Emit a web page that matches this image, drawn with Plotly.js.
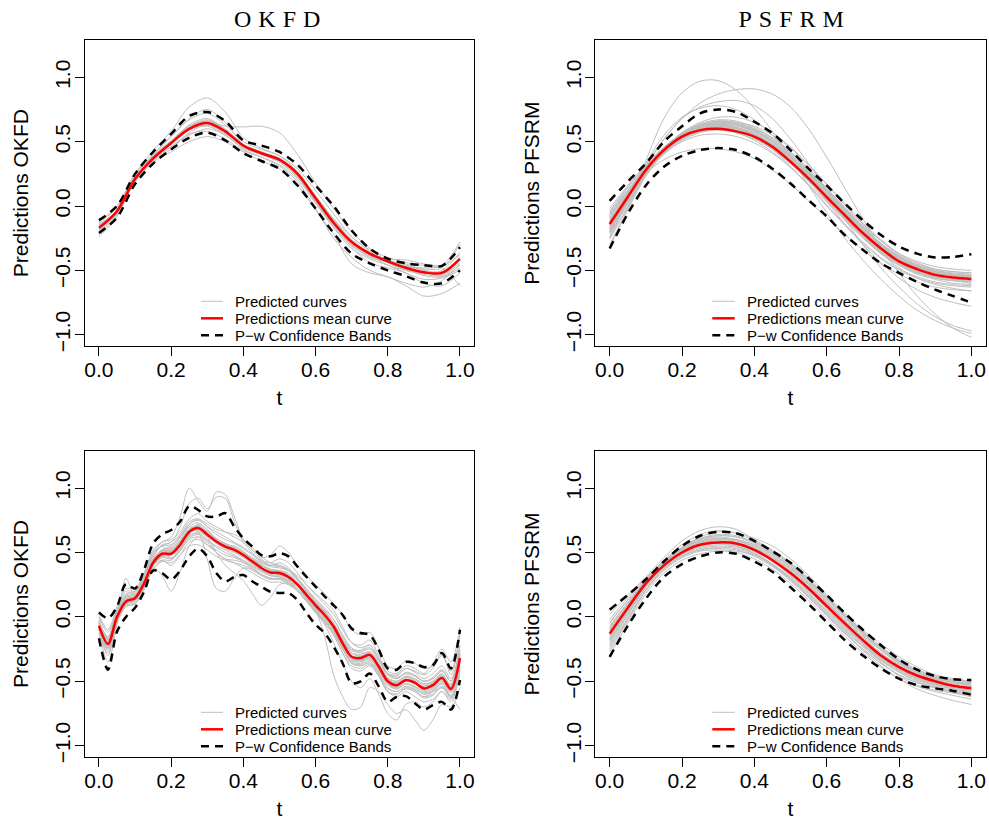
<!DOCTYPE html>
<html><head><meta charset="utf-8">
<script src="https://cdn.plot.ly/plotly-3.0.1.min.js"></script>
<style>
html,body{margin:0;padding:0;background:#fff;}
#chart{width:989px;height:821px;}
.annotation[data-index="0"] text,.annotation[data-index="1"] text{letter-spacing:7px;}
</style>
</head><body><div id="chart"></div>
<script>
// ---------- data ----------
const t21 = [0,0.05,0.1,0.15,0.2,0.25,0.3,0.35,0.4,0.45,0.5,0.55,0.6,0.65,0.7,0.75,0.8,0.85,0.9,0.95,1.0];
const t41 = [0,0.025,0.05,0.075,0.1,0.125,0.15,0.175,0.2,0.225,0.25,0.275,0.3,0.325,0.35,0.375,0.4,0.425,0.45,0.475,0.5,0.525,0.55,0.575,0.6,0.625,0.65,0.675,0.7,0.725,0.75,0.775,0.8,0.825,0.85,0.875,0.9,0.925,0.95,0.975,1.0];
const xTickVals = [0,0.2,0.4,0.6,0.8,1.0];
const xTickText = ['0.0','0.2','0.4','0.6','0.8','1.0'];
const yTickVals = [-1,-0.5,0,0.5,1];
const yTickText = ['\u22121.0','\u22120.5','0.0','0.5','1.0'];
const panelTitles = ['OKFD','PSFRM'];
const yTitles = ['Predictions OKFD','Predictions PFSRM','Predictions OKFD','Predictions PFSRM'];
const legendLabels = ['Predicted curves','Predictions mean curve','P\u2212w Confidence Bands'];

// Panel 1: OKFD (top)
const okfdTopMean  = [-0.17,-0.04,0.21,0.37,0.49,0.60,0.645,0.58,0.47,0.41,0.36,0.25,0.06,-0.13,-0.28,-0.37,-0.43,-0.48,-0.515,-0.52,-0.41];
const okfdTopUpper = [-0.11,0.0,0.25,0.42,0.56,0.70,0.73,0.66,0.51,0.47,0.42,0.32,0.16,0.0,-0.19,-0.33,-0.41,-0.445,-0.46,-0.465,-0.32];
const okfdTopLower = [-0.21,-0.09,0.17,0.33,0.44,0.53,0.57,0.51,0.41,0.35,0.29,0.16,-0.02,-0.21,-0.37,-0.445,-0.50,-0.545,-0.595,-0.60,-0.50];
const okfdTopCurves = [
  [-0.13,-0.01,0.25,0.43,0.58,0.77,0.84,0.73,0.53,0.45,0.39,0.27,0.08,-0.10,-0.27,-0.38,-0.46,-0.50,-0.52,-0.50,-0.36],
  [-0.15,-0.03,0.23,0.39,0.51,0.62,0.66,0.62,0.615,0.62,0.57,0.40,0.18,-0.02,-0.20,-0.33,-0.43,-0.47,-0.49,-0.48,-0.30],
  [-0.24,-0.08,0.19,0.34,0.42,0.50,0.54,0.50,0.42,0.35,0.29,0.16,-0.03,-0.22,-0.45,-0.52,-0.55,-0.62,-0.70,-0.68,-0.60],
  [-0.20,-0.06,0.20,0.37,0.46,0.55,0.60,0.55,0.44,0.38,0.31,0.19,-0.02,-0.25,-0.40,-0.50,-0.55,-0.60,-0.63,-0.58,-0.45],
  [-0.12,0.0,0.25,0.40,0.54,0.67,0.72,0.63,0.50,0.44,0.39,0.29,0.12,-0.06,-0.24,-0.34,-0.40,-0.44,-0.46,-0.46,-0.28],
  [-0.18,-0.04,0.21,0.36,0.48,0.59,0.62,0.55,0.45,0.40,0.35,0.23,0.04,-0.14,-0.30,-0.40,-0.43,-0.45,-0.50,-0.55,-0.48],
  [-0.16,-0.03,0.23,0.40,0.54,0.68,0.75,0.65,0.48,0.42,0.37,0.25,0.06,-0.12,-0.27,-0.36,-0.42,-0.47,-0.48,-0.47,-0.38],
  [-0.22,-0.07,0.19,0.35,0.46,0.56,0.58,0.52,0.43,0.38,0.32,0.21,0.02,-0.17,-0.33,-0.41,-0.46,-0.52,-0.57,-0.56,-0.50],
  [-0.14,-0.04,0.20,0.38,0.50,0.63,0.68,0.59,0.47,0.42,0.37,0.26,0.07,-0.10,-0.24,-0.35,-0.44,-0.50,-0.52,-0.53,-0.42],
  [-0.19,-0.06,0.20,0.37,0.48,0.60,0.64,0.57,0.46,0.40,0.35,0.23,0.03,-0.15,-0.30,-0.38,-0.41,-0.42,-0.45,-0.48,-0.62],
  [-0.17,-0.05,0.22,0.38,0.50,0.61,0.66,0.59,0.47,0.41,0.36,0.25,0.06,-0.12,-0.28,-0.37,-0.44,-0.50,-0.53,-0.54,-0.44],
  [-0.15,-0.04,0.21,0.36,0.44,0.57,0.63,0.57,0.47,0.42,0.36,0.23,0.04,-0.14,-0.32,-0.44,-0.48,-0.52,-0.60,-0.62,-0.52],
  [-0.18,-0.05,0.21,0.38,0.50,0.62,0.67,0.60,0.48,0.42,0.37,0.26,0.08,-0.11,-0.26,-0.36,-0.42,-0.46,-0.50,-0.51,-0.40],
  [-0.16,-0.03,0.22,0.37,0.49,0.59,0.63,0.56,0.46,0.40,0.34,0.22,0.04,-0.16,-0.31,-0.39,-0.44,-0.49,-0.54,-0.55,-0.46]
];

// Panel 2: PSFRM (top)
const psfrmTopMean  = [-0.14,0.07,0.28,0.435,0.54,0.59,0.60,0.58,0.54,0.46,0.345,0.215,0.07,-0.07,-0.21,-0.33,-0.43,-0.49,-0.535,-0.555,-0.567];
const psfrmTopUpper = [0.04,0.19,0.33,0.50,0.62,0.72,0.75,0.73,0.655,0.565,0.435,0.29,0.16,0.02,-0.11,-0.225,-0.315,-0.37,-0.40,-0.395,-0.375];
const psfrmTopLower = [-0.33,-0.06,0.16,0.305,0.39,0.435,0.45,0.435,0.38,0.29,0.175,0.045,-0.08,-0.225,-0.34,-0.445,-0.52,-0.59,-0.65,-0.70,-0.75];
const psfrmTopCurves = [
  [-0.32,-0.02,0.35,0.68,0.88,0.97,0.975,0.90,0.76,0.58,0.38,0.16,-0.05,-0.25,-0.42,-0.57,-0.70,-0.81,-0.89,-0.95,-0.99],
  [-0.12,0.10,0.32,0.52,0.68,0.80,0.87,0.905,0.91,0.87,0.77,0.60,0.38,0.14,-0.10,-0.32,-0.52,-0.70,-0.84,-0.95,-1.02],
  [-0.20,0.05,0.30,0.52,0.68,0.77,0.81,0.82,0.78,0.68,0.52,0.33,0.12,-0.10,-0.30,-0.48,-0.63,-0.76,-0.86,-0.93,-0.97],
  [-0.25,0.05,0.33,0.55,0.69,0.76,0.78,0.75,0.67,0.55,0.39,0.22,0.04,-0.14,-0.30,-0.44,-0.56,-0.65,-0.71,-0.75,-0.78],
  [-0.05,0.12,0.26,0.36,0.42,0.445,0.445,0.42,0.37,0.28,0.17,0.04,-0.09,-0.22,-0.34,-0.45,-0.53,-0.59,-0.63,-0.65,-0.66],
  [-0.02,0.16,0.32,0.46,0.56,0.62,0.64,0.63,0.59,0.51,0.40,0.27,0.13,-0.01,-0.15,-0.27,-0.37,-0.43,-0.47,-0.49,-0.50],
  [-0.06,0.14,0.31,0.45,0.55,0.61,0.63,0.61,0.56,0.48,0.37,0.24,0.10,-0.04,-0.18,-0.30,-0.40,-0.46,-0.50,-0.52,-0.53],
  [-0.10,0.10,0.29,0.44,0.55,0.62,0.65,0.64,0.60,0.53,0.42,0.29,0.14,-0.01,-0.16,-0.29,-0.40,-0.47,-0.52,-0.54,-0.55],
  [-0.14,0.07,0.28,0.44,0.56,0.63,0.66,0.64,0.59,0.50,0.38,0.24,0.09,-0.06,-0.20,-0.32,-0.42,-0.49,-0.54,-0.56,-0.57],
  [-0.18,0.04,0.26,0.42,0.54,0.60,0.61,0.59,0.54,0.45,0.33,0.19,0.04,-0.10,-0.24,-0.36,-0.45,-0.51,-0.55,-0.57,-0.58],
  [-0.22,0.02,0.25,0.42,0.54,0.61,0.63,0.61,0.55,0.46,0.34,0.20,0.05,-0.10,-0.24,-0.36,-0.46,-0.53,-0.57,-0.60,-0.61],
  [-0.26,-0.01,0.24,0.41,0.53,0.59,0.60,0.57,0.51,0.42,0.30,0.16,0.01,-0.14,-0.28,-0.40,-0.49,-0.55,-0.59,-0.61,-0.62],
  [-0.30,-0.03,0.23,0.42,0.55,0.62,0.64,0.61,0.54,0.44,0.31,0.16,0.00,-0.15,-0.29,-0.41,-0.50,-0.56,-0.60,-0.62,-0.63],
  [-0.12,0.08,0.27,0.41,0.50,0.55,0.56,0.54,0.49,0.41,0.30,0.17,0.03,-0.11,-0.25,-0.37,-0.46,-0.52,-0.55,-0.57,-0.58],
  [-0.08,0.12,0.30,0.45,0.57,0.65,0.69,0.69,0.65,0.57,0.46,0.32,0.17,0.01,-0.14,-0.27,-0.38,-0.45,-0.49,-0.51,-0.52],
  [-0.16,0.06,0.27,0.43,0.55,0.62,0.65,0.63,0.58,0.50,0.39,0.26,0.11,-0.04,-0.18,-0.31,-0.41,-0.48,-0.52,-0.54,-0.55],
  [-0.20,0.03,0.25,0.40,0.51,0.57,0.59,0.57,0.52,0.44,0.33,0.20,0.06,-0.08,-0.22,-0.34,-0.44,-0.50,-0.54,-0.56,-0.57],
  [-0.04,0.15,0.31,0.44,0.53,0.58,0.60,0.58,0.54,0.47,0.37,0.25,0.12,-0.02,-0.16,-0.29,-0.39,-0.46,-0.50,-0.53,-0.54],
  [-0.24,0.00,0.25,0.43,0.56,0.63,0.66,0.65,0.60,0.52,0.41,0.27,0.12,-0.04,-0.19,-0.32,-0.43,-0.51,-0.56,-0.58,-0.59],
  [-0.15,0.06,0.26,0.41,0.52,0.58,0.60,0.58,0.53,0.45,0.34,0.21,0.06,-0.09,-0.24,-0.37,-0.48,-0.56,-0.61,-0.64,-0.66],
  [-0.11,0.09,0.29,0.44,0.55,0.61,0.63,0.61,0.57,0.49,0.38,0.25,0.10,-0.05,-0.19,-0.31,-0.41,-0.48,-0.52,-0.54,-0.55],
  [-0.17,0.05,0.27,0.43,0.54,0.60,0.62,0.60,0.55,0.47,0.36,0.23,0.08,-0.07,-0.21,-0.33,-0.43,-0.50,-0.54,-0.56,-0.57],
  [-0.13,0.08,0.29,0.45,0.57,0.64,0.67,0.66,0.61,0.53,0.42,0.28,0.13,-0.02,-0.16,-0.29,-0.39,-0.46,-0.51,-0.53,-0.54],
  [-0.19,0.03,0.25,0.41,0.52,0.58,0.60,0.58,0.53,0.44,0.33,0.20,0.05,-0.09,-0.23,-0.35,-0.45,-0.52,-0.56,-0.58,-0.59],
  [-0.09,0.11,0.30,0.45,0.56,0.63,0.66,0.65,0.62,0.55,0.45,0.32,0.17,0.02,-0.13,-0.26,-0.37,-0.44,-0.49,-0.51,-0.52],
  [-0.21,0.02,0.25,0.42,0.54,0.61,0.64,0.63,0.58,0.50,0.38,0.25,0.10,-0.05,-0.20,-0.33,-0.44,-0.51,-0.56,-0.58,-0.60],
  [-0.07,0.12,0.30,0.44,0.54,0.60,0.62,0.60,0.56,0.48,0.38,0.26,0.12,-0.03,-0.17,-0.30,-0.40,-0.47,-0.51,-0.53,-0.54],
  [-0.15,0.06,0.27,0.42,0.53,0.59,0.61,0.60,0.56,0.48,0.37,0.24,0.09,-0.06,-0.20,-0.32,-0.42,-0.49,-0.53,-0.55,-0.56],
  [-0.13,0.08,0.28,0.43,0.55,0.62,0.64,0.62,0.58,0.51,0.40,0.27,0.12,-0.03,-0.17,-0.30,-0.40,-0.47,-0.51,-0.53,-0.55],
  [-0.18,0.05,0.27,0.44,0.56,0.62,0.63,0.61,0.56,0.47,0.35,0.21,0.06,-0.09,-0.23,-0.35,-0.44,-0.50,-0.54,-0.56,-0.57]
];

// Panel 3: OKFD (bottom)
const okfdBotMean  = [-0.07,-0.21,0.00,0.12,0.145,0.26,0.42,0.49,0.49,0.56,0.66,0.69,0.64,0.585,0.545,0.52,0.48,0.43,0.38,0.345,0.34,0.31,0.25,0.17,0.09,0.015,-0.075,-0.205,-0.31,-0.32,-0.295,-0.385,-0.50,-0.53,-0.49,-0.51,-0.555,-0.53,-0.475,-0.56,-0.32];
const okfdBotUpper = [0.035,-0.01,0.08,0.255,0.22,0.365,0.57,0.64,0.675,0.74,0.86,0.83,0.78,0.78,0.805,0.70,0.61,0.545,0.48,0.47,0.495,0.47,0.39,0.31,0.235,0.16,0.09,0.015,-0.09,-0.125,-0.14,-0.255,-0.40,-0.41,-0.35,-0.36,-0.39,-0.375,-0.28,-0.40,-0.10];
const okfdBotLower = [-0.165,-0.41,-0.115,0.0,0.07,0.195,0.36,0.34,0.29,0.36,0.47,0.53,0.47,0.34,0.275,0.31,0.325,0.275,0.235,0.195,0.185,0.185,0.13,0.03,-0.06,-0.125,-0.23,-0.36,-0.515,-0.50,-0.44,-0.54,-0.66,-0.62,-0.615,-0.67,-0.72,-0.685,-0.66,-0.72,-0.49];
const okfdBotCurves = [
  [-0.05,-0.15,0.05,0.18,0.20,0.32,0.50,0.58,0.62,0.78,1.00,0.90,0.82,0.97,0.95,0.78,0.60,0.52,0.45,0.40,0.42,0.38,0.30,0.20,0.12,0.05,-0.05,-0.18,-0.28,-0.30,-0.28,-0.38,-0.48,-0.50,-0.46,-0.48,-0.52,-0.50,-0.44,-0.55,-0.28],
  [-0.10,-0.30,-0.05,0.08,0.10,0.22,0.38,0.32,0.20,0.35,0.55,0.62,0.58,0.50,0.45,0.44,0.42,0.38,0.33,0.30,0.30,0.27,0.20,0.12,0.04,-0.04,-0.14,-0.28,-0.40,-0.42,-0.38,-0.46,-0.58,-0.60,-0.55,-0.58,-0.62,-0.58,-0.52,-0.62,-0.40],
  [-0.02,-0.18,0.02,0.14,0.16,0.28,0.45,0.52,0.55,0.62,0.70,0.66,0.45,0.22,0.20,0.30,0.38,0.36,0.32,0.29,0.30,0.28,0.22,0.14,0.06,-0.02,-0.12,-0.24,-0.35,-0.36,-0.32,-0.42,-0.52,-0.55,-0.50,-0.52,-0.56,-0.54,-0.48,-0.58,-0.35],
  [-0.08,-0.24,-0.02,0.10,0.13,0.24,0.40,0.47,0.48,0.54,0.62,0.65,0.60,0.55,0.52,0.48,0.44,0.40,0.36,0.33,0.32,0.29,0.22,0.14,0.05,-0.15,-0.45,-0.62,-0.72,-0.70,-0.55,-0.58,-0.68,-0.75,-0.72,-0.80,-0.88,-0.80,-0.68,-0.70,-0.55],
  [-0.06,-0.20,0.01,0.13,0.15,0.27,0.43,0.50,0.52,0.58,0.68,0.70,0.62,0.50,0.40,0.34,0.28,0.18,0.09,0.15,0.25,0.26,0.22,0.15,0.07,-0.01,-0.10,-0.22,-0.33,-0.34,-0.31,-0.40,-0.52,-0.54,-0.50,-0.52,-0.57,-0.55,-0.49,-0.57,-0.33],
  [0.02,-0.10,0.08,0.22,0.22,0.34,0.52,0.58,0.60,0.66,0.76,0.80,0.74,0.70,0.66,0.62,0.58,0.52,0.46,0.48,0.55,0.50,0.40,0.32,0.25,0.18,0.10,0.02,-0.10,-0.14,-0.12,-0.24,-0.38,-0.40,-0.34,-0.36,-0.40,-0.38,-0.30,-0.42,-0.12],
  [-0.09,-0.25,-0.03,0.10,0.12,0.23,0.40,0.47,0.46,0.53,0.63,0.66,0.62,0.57,0.53,0.50,0.46,0.41,0.36,0.32,0.31,0.28,0.22,0.15,0.07,-0.01,-0.09,-0.22,-0.33,-0.34,-0.31,-0.40,-0.52,-0.56,-0.52,-0.54,-0.58,-0.56,-0.50,-0.58,-0.35],
  [-0.04,-0.17,0.03,0.15,0.17,0.29,0.45,0.52,0.53,0.60,0.70,0.73,0.67,0.61,0.57,0.54,0.50,0.45,0.40,0.37,0.36,0.33,0.27,0.19,0.11,0.04,-0.05,-0.18,-0.28,-0.29,-0.27,-0.36,-0.47,-0.50,-0.46,-0.48,-0.52,-0.50,-0.45,-0.53,-0.29],
  [-0.03,-0.16,0.04,0.16,0.18,0.30,0.48,0.56,0.58,0.70,0.88,0.92,0.84,0.93,0.92,0.74,0.58,0.50,0.43,0.40,0.40,0.36,0.29,0.21,0.13,0.06,-0.02,-0.14,-0.24,-0.27,-0.25,-0.34,-0.45,-0.48,-0.43,-0.45,-0.50,-0.48,-0.42,-0.50,-0.22],
  [-0.12,-0.35,-0.06,0.30,0.16,0.25,0.40,0.44,0.40,0.48,0.58,0.60,0.56,0.52,0.48,0.46,0.43,0.39,0.35,0.32,0.31,0.28,0.22,0.14,0.05,-0.03,-0.12,-0.25,-0.36,-0.38,-0.35,-0.44,-0.56,-0.58,-0.54,-0.57,-0.62,-0.60,-0.54,-0.62,-0.38],
  [-0.07,-0.22,0.00,0.11,0.14,0.25,0.41,0.48,0.48,0.55,0.65,0.68,0.63,0.58,0.54,0.51,0.47,0.42,0.37,0.34,0.33,0.30,0.24,0.15,0.05,-0.06,-0.20,-0.36,-0.50,-0.55,-0.48,-0.60,-0.75,-0.80,-0.68,-0.66,-0.70,-0.66,-0.58,-0.64,-0.45],
  [-0.06,-0.19,0.02,0.14,0.16,0.28,0.44,0.51,0.51,0.58,0.68,0.71,0.66,0.60,0.56,0.53,0.49,0.44,0.40,0.36,0.35,0.32,0.26,0.18,0.10,0.03,-0.06,-0.18,-0.26,-0.26,-0.22,-0.32,-0.44,-0.46,-0.40,-0.42,-0.45,-0.40,-0.28,-0.45,-0.15],
  [-0.10,-0.28,-0.04,0.09,0.11,0.22,0.37,0.43,0.42,0.48,0.55,0.56,0.52,0.47,0.44,0.42,0.40,0.37,0.33,0.30,0.29,0.26,0.20,0.12,0.03,-0.05,-0.14,-0.28,-0.38,-0.40,-0.37,-0.46,-0.58,-0.62,-0.58,-0.62,-0.66,-0.64,-0.58,-0.66,-0.42],
  [0.00,-0.12,0.06,0.20,0.20,0.32,0.50,0.55,0.58,0.64,0.74,0.76,0.70,0.66,0.62,0.58,0.54,0.49,0.44,0.42,0.45,0.42,0.34,0.25,0.17,0.10,0.02,-0.10,-0.20,-0.22,-0.18,-0.30,-0.42,-0.44,-0.38,-0.40,-0.44,-0.36,-0.25,-0.35,-0.08],
  [-0.08,-0.23,-0.01,0.12,0.14,0.25,0.41,0.48,0.49,0.56,0.66,0.69,0.64,0.58,0.55,0.52,0.48,0.43,0.38,0.35,0.34,0.31,0.25,0.17,0.09,0.01,-0.08,-0.21,-0.32,-0.33,-0.30,-0.40,-0.52,-0.55,-0.52,-0.55,-0.60,-0.58,-0.55,-0.62,-0.72],
  [-0.04,-0.17,0.04,0.17,0.19,0.31,0.48,0.55,0.56,0.63,0.72,0.75,0.70,0.64,0.60,0.57,0.53,0.48,0.43,0.40,0.39,0.36,0.30,0.22,0.14,0.07,-0.02,-0.15,-0.25,-0.26,-0.24,-0.33,-0.45,-0.48,-0.44,-0.46,-0.50,-0.48,-0.42,-0.50,-0.26],
  [-0.10,-0.26,-0.04,0.08,0.10,0.21,0.37,0.44,0.44,0.51,0.61,0.64,0.59,0.54,0.50,0.47,0.43,0.38,0.33,0.30,0.29,0.26,0.20,0.12,0.04,-0.03,-0.12,-0.25,-0.36,-0.37,-0.34,-0.43,-0.55,-0.58,-0.54,-0.56,-0.60,-0.58,-0.52,-0.61,-0.38],
  [-0.05,-0.19,0.03,0.16,0.14,0.27,0.46,0.55,0.45,0.52,0.64,0.72,0.68,0.60,0.55,0.55,0.51,0.45,0.40,0.36,0.36,0.34,0.28,0.19,0.10,0.03,-0.06,-0.19,-0.30,-0.34,-0.33,-0.40,-0.50,-0.51,-0.47,-0.50,-0.56,-0.52,-0.46,-0.54,-0.30],
  [-0.09,-0.24,-0.02,0.11,0.16,0.24,0.40,0.47,0.51,0.58,0.66,0.67,0.63,0.59,0.56,0.53,0.49,0.45,0.41,0.37,0.35,0.30,0.24,0.17,0.10,0.03,-0.05,-0.17,-0.28,-0.31,-0.30,-0.38,-0.48,-0.52,-0.50,-0.52,-0.54,-0.51,-0.46,-0.52,-0.36],
  [-0.06,-0.20,0.01,0.13,0.15,0.27,0.44,0.52,0.54,0.62,0.72,0.76,0.72,0.68,0.66,0.64,0.60,0.54,0.47,0.42,0.40,0.37,0.30,0.21,0.12,0.04,-0.06,-0.19,-0.30,-0.31,-0.28,-0.37,-0.49,-0.51,-0.47,-0.49,-0.53,-0.51,-0.45,-0.53,-0.30],
  [-0.08,-0.23,-0.01,0.11,0.13,0.24,0.40,0.46,0.45,0.52,0.60,0.62,0.56,0.50,0.45,0.42,0.38,0.34,0.30,0.27,0.27,0.25,0.20,0.13,0.05,-0.03,-0.12,-0.24,-0.34,-0.35,-0.32,-0.41,-0.53,-0.56,-0.52,-0.54,-0.59,-0.57,-0.51,-0.59,-0.36],
  [-0.07,-0.21,0.00,0.12,0.15,0.26,0.42,0.50,0.50,0.57,0.67,0.70,0.65,0.59,0.55,0.52,0.48,0.43,0.38,0.35,0.35,0.32,0.26,0.18,0.10,0.03,-0.05,-0.17,-0.26,-0.28,-0.28,-0.34,-0.44,-0.45,-0.40,-0.43,-0.48,-0.44,-0.38,-0.48,-0.22],
  [-0.07,-0.22,0.00,0.12,0.14,0.26,0.42,0.49,0.49,0.56,0.65,0.68,0.63,0.58,0.54,0.51,0.47,0.42,0.37,0.34,0.33,0.30,0.24,0.16,0.07,-0.01,-0.10,-0.24,-0.36,-0.38,-0.36,-0.45,-0.58,-0.60,-0.56,-0.58,-0.63,-0.61,-0.55,-0.63,-0.42],
  [-0.05,-0.18,0.02,0.15,0.17,0.28,0.44,0.51,0.52,0.59,0.68,0.71,0.66,0.61,0.57,0.54,0.50,0.46,0.42,0.39,0.38,0.36,0.32,0.25,0.18,0.12,0.05,-0.08,-0.20,-0.24,-0.22,-0.32,-0.44,-0.47,-0.44,-0.46,-0.50,-0.47,-0.41,-0.50,-0.25]
];

// Panel 4: PSFRM (bottom)
const psfrmBotMean  = [-0.13,0.07,0.26,0.40,0.50,0.56,0.578,0.57,0.52,0.44,0.34,0.22,0.085,-0.05,-0.18,-0.30,-0.39,-0.455,-0.50,-0.535,-0.555];
const psfrmBotUpper = [0.055,0.17,0.29,0.43,0.55,0.63,0.66,0.65,0.59,0.51,0.42,0.30,0.17,0.03,-0.10,-0.22,-0.33,-0.41,-0.46,-0.485,-0.49];
const psfrmBotLower = [-0.31,-0.07,0.14,0.31,0.41,0.47,0.50,0.49,0.43,0.35,0.23,0.10,-0.04,-0.18,-0.30,-0.40,-0.48,-0.53,-0.555,-0.575,-0.605];
const psfrmBotCurves = [
  [0.02,0.17,0.31,0.46,0.59,0.67,0.70,0.68,0.60,0.52,0.42,0.30,0.16,0.02,-0.11,-0.23,-0.33,-0.41,-0.46,-0.49,-0.50],
  [-0.05,0.13,0.29,0.43,0.54,0.61,0.63,0.62,0.57,0.49,0.39,0.27,0.14,0.00,-0.13,-0.25,-0.35,-0.43,-0.48,-0.51,-0.52],
  [-0.10,0.09,0.27,0.41,0.52,0.58,0.60,0.59,0.54,0.46,0.36,0.24,0.10,-0.04,-0.17,-0.28,-0.38,-0.45,-0.50,-0.53,-0.54],
  [-0.15,0.05,0.25,0.40,0.51,0.57,0.59,0.57,0.52,0.44,0.33,0.21,0.07,-0.07,-0.20,-0.31,-0.40,-0.47,-0.52,-0.55,-0.57],
  [-0.20,0.02,0.24,0.39,0.49,0.54,0.56,0.55,0.50,0.41,0.30,0.18,0.04,-0.10,-0.22,-0.33,-0.42,-0.48,-0.53,-0.56,-0.59],
  [-0.25,-0.02,0.21,0.37,0.47,0.52,0.53,0.52,0.47,0.39,0.28,0.15,0.01,-0.13,-0.25,-0.36,-0.45,-0.51,-0.55,-0.58,-0.61],
  [-0.30,-0.05,0.18,0.34,0.44,0.49,0.51,0.50,0.45,0.37,0.26,0.13,-0.01,-0.15,-0.28,-0.39,-0.48,-0.54,-0.58,-0.61,-0.64],
  [-0.08,0.11,0.28,0.42,0.54,0.62,0.66,0.65,0.61,0.55,0.45,0.32,0.17,0.03,-0.10,-0.21,-0.31,-0.39,-0.45,-0.48,-0.50],
  [-0.18,0.04,0.25,0.41,0.53,0.60,0.62,0.60,0.54,0.45,0.34,0.21,0.07,-0.08,-0.21,-0.33,-0.43,-0.50,-0.55,-0.59,-0.62],
  [-0.12,0.08,0.26,0.40,0.50,0.56,0.58,0.57,0.53,0.46,0.37,0.25,0.12,-0.02,-0.15,-0.26,-0.36,-0.43,-0.48,-0.51,-0.53],
  [-0.22,0.01,0.23,0.39,0.50,0.56,0.57,0.55,0.49,0.40,0.29,0.16,0.02,-0.12,-0.26,-0.38,-0.48,-0.56,-0.61,-0.65,-0.68],
  [-0.02,0.15,0.30,0.44,0.56,0.64,0.67,0.65,0.59,0.51,0.41,0.29,0.15,0.01,-0.12,-0.24,-0.34,-0.42,-0.47,-0.50,-0.51],
  [-0.14,0.06,0.26,0.41,0.52,0.59,0.61,0.60,0.56,0.48,0.38,0.26,0.12,-0.03,-0.16,-0.28,-0.38,-0.46,-0.51,-0.54,-0.56],
  [-0.27,-0.03,0.20,0.36,0.46,0.51,0.52,0.51,0.48,0.41,0.31,0.19,0.05,-0.09,-0.23,-0.35,-0.46,-0.53,-0.57,-0.59,-0.60],
  [-0.11,0.08,0.27,0.41,0.52,0.58,0.60,0.59,0.55,0.47,0.37,0.25,0.11,-0.03,-0.16,-0.28,-0.37,-0.44,-0.49,-0.52,-0.54],
  [-0.16,0.05,0.25,0.39,0.49,0.55,0.57,0.56,0.51,0.43,0.32,0.20,0.06,-0.08,-0.21,-0.32,-0.41,-0.47,-0.52,-0.55,-0.57],
  [-0.07,0.11,0.28,0.42,0.53,0.60,0.63,0.62,0.58,0.50,0.40,0.28,0.14,0.00,-0.13,-0.25,-0.35,-0.42,-0.47,-0.50,-0.52],
  [-0.19,0.02,0.23,0.38,0.48,0.53,0.55,0.54,0.49,0.41,0.30,0.17,0.03,-0.11,-0.23,-0.34,-0.43,-0.49,-0.54,-0.57,-0.59],
  [-0.13,0.07,0.26,0.41,0.51,0.57,0.59,0.58,0.53,0.45,0.35,0.23,0.09,-0.05,-0.18,-0.30,-0.39,-0.46,-0.51,-0.54,-0.56],
  [-0.04,0.13,0.29,0.43,0.54,0.61,0.64,0.63,0.58,0.51,0.41,0.29,0.15,0.01,-0.12,-0.24,-0.34,-0.41,-0.46,-0.49,-0.50],
  [-0.23,-0.01,0.21,0.37,0.47,0.52,0.54,0.53,0.48,0.40,0.29,0.16,0.02,-0.12,-0.25,-0.36,-0.45,-0.51,-0.55,-0.58,-0.60],
  [-0.09,0.10,0.28,0.42,0.53,0.59,0.61,0.60,0.56,0.49,0.39,0.27,0.13,-0.01,-0.14,-0.26,-0.36,-0.43,-0.48,-0.51,-0.53],
  [-0.17,0.04,0.24,0.39,0.50,0.56,0.58,0.57,0.52,0.44,0.33,0.21,0.07,-0.07,-0.20,-0.32,-0.41,-0.48,-0.53,-0.56,-0.58]
];

// ---------- build ----------
const W = 989, H = 821;
const PX = v => v / W, PY = v => 1 - v / H;
const GREY = '#BEBEBE', RED = '#FF0000', BLACK = '#000000';
const SANS = 'Liberation Sans, Arial, Helvetica, sans-serif';
const SERIF = 'Liberation Serif, Times New Roman, serif';

const panels = [
  {t: t21, curves: okfdTopCurves,  mean: okfdTopMean,  up: okfdTopUpper,  lo: okfdTopLower,  xa: 'x',  ya: 'y'},
  {t: t21, curves: psfrmTopCurves, mean: psfrmTopMean, up: psfrmTopUpper, lo: psfrmTopLower, xa: 'x2', ya: 'y2'},
  {t: t41, curves: okfdBotCurves,  mean: okfdBotMean,  up: okfdBotUpper,  lo: okfdBotLower,  xa: 'x3', ya: 'y3'},
  {t: t21, curves: psfrmBotCurves, mean: psfrmBotMean, up: psfrmBotUpper, lo: psfrmBotLower, xa: 'x4', ya: 'y4'}
];

const traces = [];
panels.forEach(p => {
  p.curves.forEach(c => traces.push({
    x: p.t, y: c, xaxis: p.xa, yaxis: p.ya, type: 'scatter', mode: 'lines',
    name: legendLabels[0], showlegend: false, hoverinfo: 'skip',
    line: {color: GREY, width: 1, shape: 'spline', smoothing: 0.9}
  }));
  [p.up, p.lo].forEach(b => traces.push({
    x: p.t, y: b, xaxis: p.xa, yaxis: p.ya, type: 'scatter', mode: 'lines',
    name: legendLabels[2], showlegend: false, hoverinfo: 'skip',
    line: {color: BLACK, width: 2.5, dash: '8px,6px', shape: 'spline', smoothing: 0.9}
  }));
  traces.push({
    x: p.t, y: p.mean, xaxis: p.xa, yaxis: p.ya, type: 'scatter', mode: 'lines',
    name: legendLabels[1], showlegend: false, hoverinfo: 'skip',
    line: {color: RED, width: 2.5, shape: 'spline', smoothing: 0.9}
  });
});

// geometry (pixels)
const boxes = [
  {x0: 84.5, x1: 474.4, y0: 40.3, y1: 346},
  {x0: 595.2, x1: 985.8, y0: 40.3, y1: 346},
  {x0: 84.5, x1: 474.4, y0: 451, y1: 757},
  {x0: 595.2, x1: 985.8, y0: 451, y1: 757}
];

const layout = {
  width: W, height: H,
  margin: {l: 0, r: 0, t: 0, b: 0, pad: 0},
  paper_bgcolor: '#fff', plot_bgcolor: '#fff',
  showlegend: false,
  font: {family: SANS, color: BLACK},
  annotations: [], shapes: []
};

boxes.forEach((b, i) => {
  const n = i === 0 ? '' : String(i + 1);
  layout['xaxis' + n] = {
    domain: [PX(b.x0), PX(b.x1)], anchor: 'y' + n, range: [-0.04, 1.04],
    tickvals: xTickVals, ticktext: xTickText,
    showline: true, mirror: true, linecolor: BLACK, linewidth: 1,
    ticks: 'outside', ticklen: 9, tickwidth: 1, tickcolor: BLACK,
    showgrid: false, zeroline: false, ticklabelstandoff: -4,
    tickfont: {family: SANS, size: 21, color: BLACK},
    title: {text: 't', font: {family: SANS, size: 21, color: BLACK}, standoff: 10}
  };
  layout['yaxis' + n] = {
    domain: [PY(b.y1), PY(b.y0)], anchor: 'x' + n, range: [-1.088, 1.288],
    tickvals: yTickVals, ticktext: yTickText, tickangle: -90,
    showline: true, mirror: true, linecolor: BLACK, linewidth: 1,
    ticks: 'outside', ticklen: 9, tickwidth: 1, tickcolor: BLACK,
    showgrid: false, zeroline: false, ticklabelstandoff: -4,
    tickfont: {family: SANS, size: 21, color: BLACK},
    title: {text: yTitles[i], font: {family: SANS, size: 21, color: BLACK}, standoff: 16}
  };
});

// panel titles
layout.annotations.push({text: panelTitles[0], xref: 'paper', yref: 'paper', x: PX(277), y: PY(19),
  xanchor: 'center', yanchor: 'middle', showarrow: false, xshift: 3.5, font: {family: SERIF, size: 24, color: BLACK}});
layout.annotations.push({text: panelTitles[1], xref: 'paper', yref: 'paper', x: PX(790.5), y: PY(19),
  xanchor: 'center', yanchor: 'middle', showarrow: false, xshift: 3.5, font: {family: SERIF, size: 24, color: BLACK}});

// legends (one per panel), drawn as sample lines + labels
const legendPos = [
  {lx0: 201, lx1: 223, tx: 234, rows: [301.3, 318.3, 335.3]},
  {lx0: 712.3, lx1: 734.7, tx: 745.7, rows: [301.3, 318.3, 335.3]},
  {lx0: 201, lx1: 223, tx: 234, rows: [712.3, 729.3, 746.3]},
  {lx0: 712.3, lx1: 734.7, tx: 745.7, rows: [712.3, 729.3, 746.3]}
];
const legendLines = [
  {color: GREY, width: 1, dash: 'solid'},
  {color: RED, width: 2.5, dash: 'solid'},
  {color: BLACK, width: 2.5, dash: '8px,6px'}
];
legendPos.forEach(L => {
  L.rows.forEach((ry, k) => {
    layout.shapes.push({type: 'line', xref: 'paper', yref: 'paper',
      x0: PX(L.lx0), x1: PX(L.lx1), y0: PY(ry), y1: PY(ry), line: legendLines[k]});
    layout.annotations.push({text: legendLabels[k], xref: 'paper', yref: 'paper',
      x: PX(L.tx), y: PY(ry), xanchor: 'left', yanchor: 'middle', showarrow: false,
      borderpad: 0, font: {family: SANS, size: 15, color: BLACK}});
  });
});

Plotly.newPlot('chart', traces, layout, {staticPlot: true, displayModeBar: false});
</script>
</body></html>
